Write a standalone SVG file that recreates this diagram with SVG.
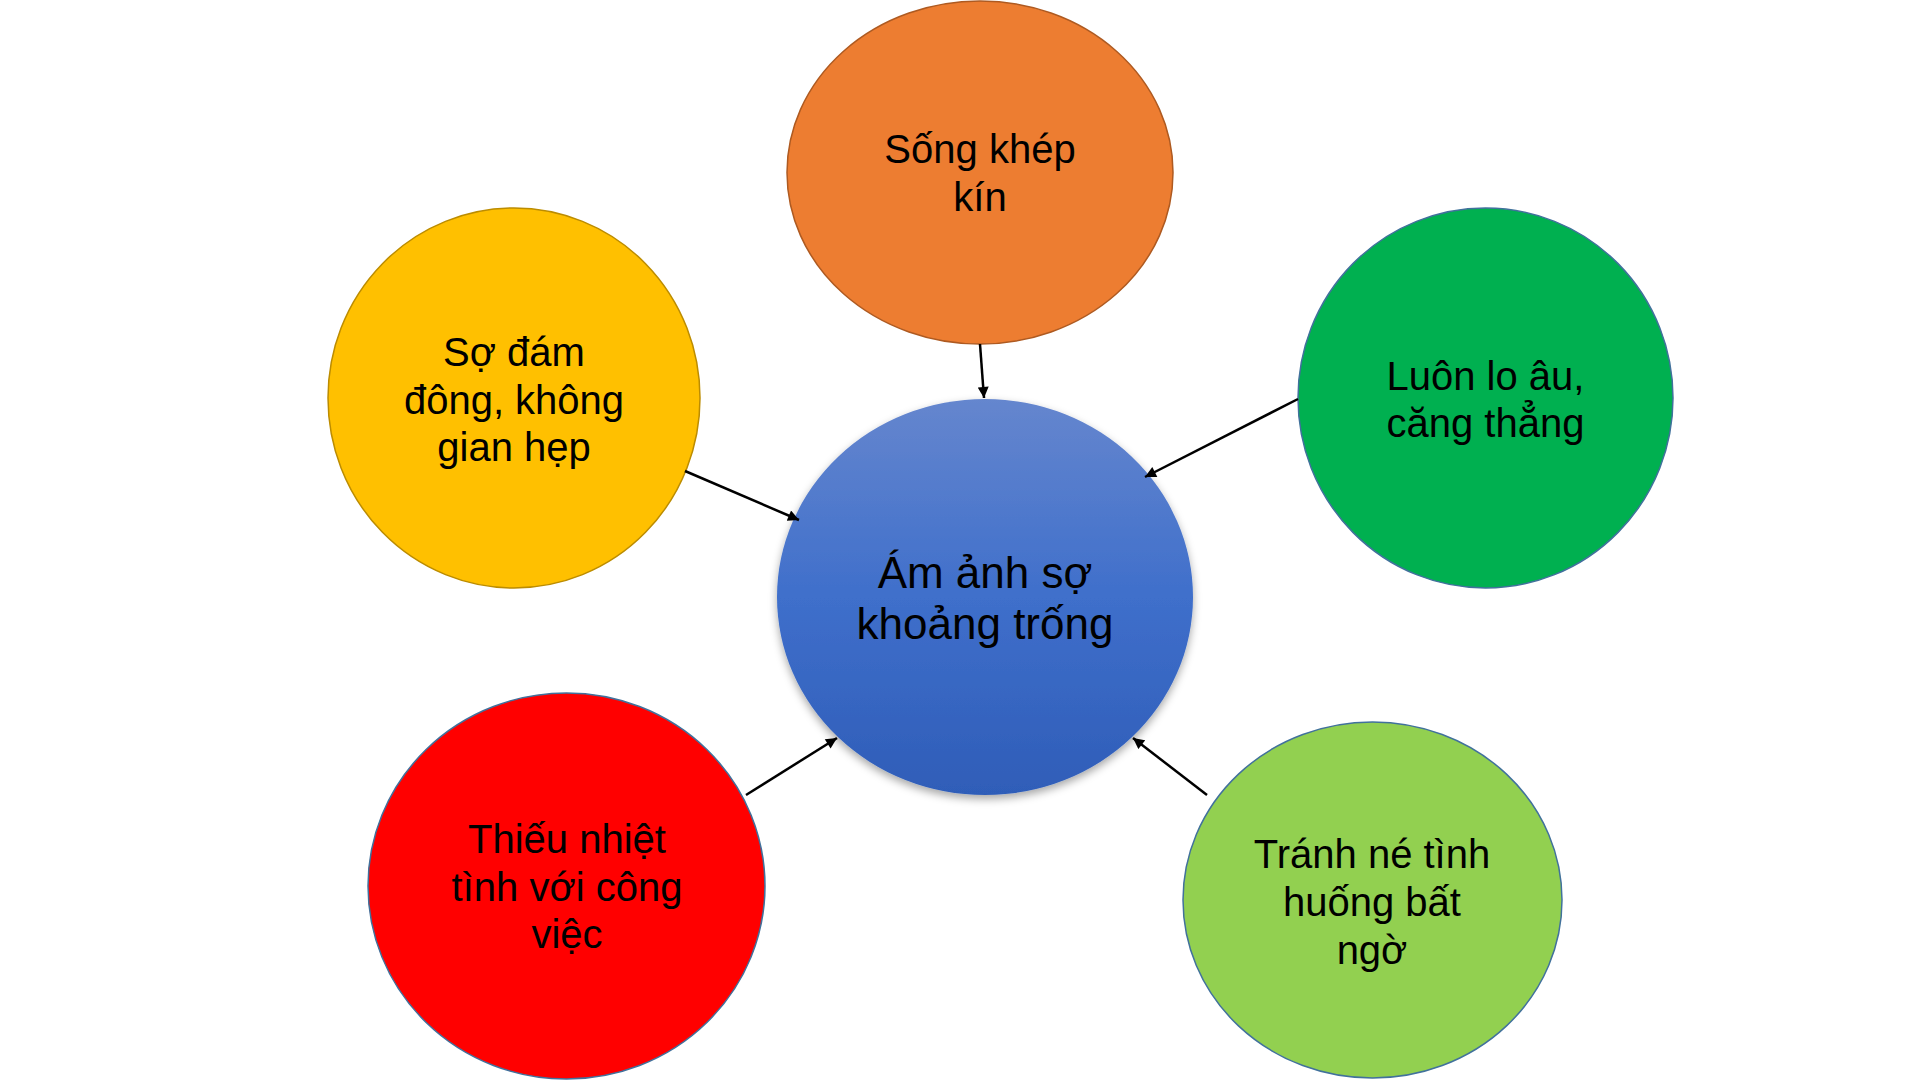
<svg xmlns="http://www.w3.org/2000/svg" width="1920" height="1080" viewBox="0 0 1920 1080">
<defs>
<style>
text{font-family:"Liberation Sans",Arial,sans-serif;font-size:40px;fill:#000;text-anchor:middle}
.center text{font-size:44px}
.conn line{stroke:#000;stroke-width:2.5;marker-end:url(#arr)}
</style>
<linearGradient id="blueGrad" x1="0" y1="0" x2="0" y2="1">
<stop offset="0" stop-color="#6586CE"/>
<stop offset="0.5" stop-color="#3F6FCB"/>
<stop offset="1" stop-color="#2F5DB8"/>
</linearGradient>
<filter id="shadow" x="-20%" y="-20%" width="140%" height="140%">
<feDropShadow dx="0" dy="4" stdDeviation="4" flood-color="#000" flood-opacity="0.35"/>
</filter>
<marker id="arr" viewBox="0 0 10 10" refX="10" refY="5" markerWidth="5" markerHeight="4.4" orient="auto" markerUnits="strokeWidth">
<path d="M0,0 L10,5 L0,10 z" fill="#000"/>
</marker>
</defs>
<rect width="1920" height="1080" fill="#fff"/>
<g id="node-center" class="center">
<ellipse cx="985" cy="597" rx="208" ry="198" fill="url(#blueGrad)" filter="url(#shadow)"/>
<text x="985" y="588">Ám ảnh sợ</text>
<text x="985" y="639">khoảng trống</text>
</g>
<g id="node-song-khep-kin">
<ellipse cx="980" cy="172.5" rx="193" ry="171.5" fill="#ED7D31" stroke="#AE5A21" stroke-width="1.5"/>
<text x="980" y="163">Sống khép</text>
<text x="980" y="211">kín</text>
</g>
<g id="node-so-dam-dong">
<ellipse cx="514" cy="398" rx="186" ry="190" fill="#FFC000" stroke="#BC8C00" stroke-width="1.5"/>
<text x="514" y="366">Sợ đám</text>
<text x="514" y="414">đông, không</text>
<text x="514" y="461">gian hẹp</text>
</g>
<g id="node-luon-lo-au">
<ellipse cx="1485.5" cy="398" rx="187.5" ry="190" fill="#00B050" stroke="#41719C" stroke-width="1.5"/>
<text x="1485.5" y="390">Luôn lo âu,</text>
<text x="1485.5" y="437">căng thẳng</text>
</g>
<g id="node-thieu-nhiet-tinh">
<ellipse cx="566.5" cy="886" rx="198.5" ry="193" fill="#FF0000" stroke="#41719C" stroke-width="1.5"/>
<text x="567" y="853">Thiếu nhiệt</text>
<text x="567" y="901">tình với công</text>
<text x="567" y="948">việc</text>
</g>
<g id="node-tranh-ne">
<ellipse cx="1372.5" cy="900" rx="189.5" ry="178" fill="#92D050" stroke="#41719C" stroke-width="1.5"/>
<text x="1372" y="868">Tránh né tình</text>
<text x="1372" y="916">huống bất</text>
<text x="1372" y="964">ngờ</text>
</g>
<g id="connectors" class="conn">
<line x1="980" y1="344" x2="984" y2="398"/>
<line x1="685" y1="471" x2="799" y2="520"/>
<line x1="1298" y1="399" x2="1145" y2="477"/>
<line x1="746" y1="795" x2="837" y2="738"/>
<line x1="1207" y1="795" x2="1133" y2="738"/>
</g>
</svg>
